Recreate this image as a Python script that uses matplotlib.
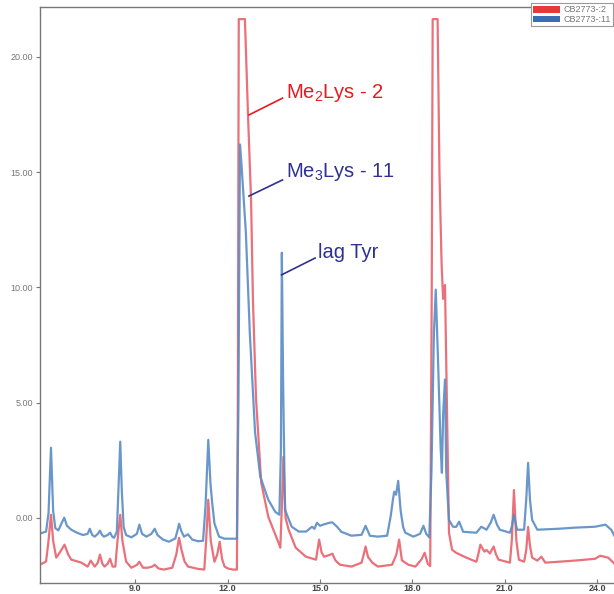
import numpy as np
import matplotlib.pyplot as plt
from matplotlib.patches import Patch

# trace CB2773-:2 (red), time (min) / signal
t_red = [5.90, 6.10, 6.18, 6.26, 6.33, 6.43, 6.55, 6.70, 6.82, 6.92, 7.25, 7.45, 7.55, 7.68,
         7.78, 7.85, 7.93, 8.00, 8.10, 8.18, 8.26, 8.35, 8.42, 8.51, 8.58, 8.70, 8.87, 9.05,
         9.13, 9.25, 9.40, 9.55, 9.63, 9.75, 9.92, 10.20, 10.33, 10.42, 10.50, 10.60, 10.71,
         11.04, 11.24, 11.30, 11.37, 11.45, 11.57, 11.66, 11.74, 11.82, 11.90, 12.00, 12.17,
         12.30, 12.33, 12.36, 12.56, 12.66, 12.76, 12.82, 12.92, 13.09, 13.32, 13.65, 13.71,
         13.76, 13.81, 13.88, 13.98, 14.21, 14.54, 14.87, 14.92, 14.97, 15.05, 15.13, 15.30,
         15.40, 15.50, 15.65, 16.02, 16.35, 16.42, 16.48, 16.56, 16.70, 16.88, 17.34, 17.48,
         17.57, 17.66, 17.87, 18.10, 18.30, 18.40, 18.50, 18.58, 18.63, 18.66, 18.82, 18.88,
         18.95, 19.00, 19.06, 19.13, 19.19, 19.29, 19.42, 19.75, 20.08, 20.14, 20.21, 20.34,
         20.41, 20.52, 20.64, 20.72, 20.80, 21.17, 21.23, 21.30, 21.38, 21.46, 21.63, 21.70,
         21.76, 21.82, 21.89, 22.06, 22.19, 22.32, 23.28, 23.94, 24.10, 24.36, 24.60, 24.76,
         24.85]
v_red = [-2.04, -1.90, -1.00, 0.13, -1.00, -1.73, -1.50, -1.17, -1.60, -1.82, -1.95, -2.12, -1.86, -2.12,
         -1.95, -1.60, -2.00, -2.12, -2.00, -1.78, -2.12, -2.12, -1.00, 0.13, -1.00, -1.90, -2.17, -2.05,
         -1.91, -2.17, -2.17, -2.12, -2.04, -2.20, -2.25, -2.17, -1.60, -0.87, -1.40, -1.90, -2.12,
         -2.22, -2.25, -1.00, 0.78, -1.00, -1.91, -1.60, -1.04, -1.80, -2.12, -2.20, -2.25,
         -2.25, 5.00, 21.64, 21.64, 17.50, 13.80, 9.50, 5.20, 1.52, 0.04, -1.08, -1.30,
         0.50, 2.64, 0.00, -0.52, -1.30, -1.69, -1.82, -1.40, -0.95, -1.50, -1.69, -1.62,
         -1.56, -1.85, -2.04, -2.12, -1.95, -1.60, -1.25, -1.70, -1.95, -2.12, -2.04, -1.60,
         -0.95, -1.85, -2.04, -2.12, -1.80, -1.52, -2.00, -2.10, 10.00, 21.64, 21.64, 15.00,
         11.00, 9.50, 10.10, 4.30, -0.65, -1.39, -1.52, -1.73, -1.91, -1.60, -1.17, -1.47,
         -1.40, -1.55, -1.25, -1.60, -1.82, -1.95, -1.00, 1.20, -1.00, -1.82, -1.91, -1.40,
         -0.40, -1.20, -1.73, -1.86, -1.69, -1.95, -1.86, -1.78, -1.65, -1.73, -2.04, -2.56,
         -2.90]

# trace CB2773-:11 (blue)
t_blue = [5.90, 6.10, 6.18, 6.26, 6.33, 6.40, 6.50, 6.60, 6.69, 6.78, 6.92, 7.10, 7.30, 7.45,
          7.52, 7.60, 7.68, 7.78, 7.85, 7.92, 7.98, 8.10, 8.18, 8.25, 8.31, 8.40, 8.46, 8.51,
          8.56, 8.62, 8.70, 8.87, 9.05, 9.13, 9.22, 9.36, 9.52, 9.63, 9.72, 9.90, 10.09, 10.30,
          10.38, 10.42, 10.50, 10.58, 10.71, 10.85, 11.04, 11.20, 11.28, 11.37, 11.44, 11.50,
          11.57, 11.72, 11.90, 12.10, 12.30, 12.35, 12.40, 12.45, 12.59, 12.72, 12.89, 13.06,
          13.32, 13.55, 13.68, 13.73, 13.76, 13.80, 13.86, 14.08, 14.31, 14.55, 14.74, 14.82,
          14.90, 15.00, 15.10, 15.30, 15.40, 15.56, 15.69, 16.02, 16.35, 16.48, 16.62, 16.88,
          17.18, 17.30, 17.37, 17.41, 17.47, 17.54, 17.62, 17.70, 17.77, 18.03, 18.25, 18.36,
          18.45, 18.55, 18.62, 18.70, 18.76, 18.83, 18.92, 18.96, 19.00, 19.06, 19.10, 19.19,
          19.32, 19.42, 19.52, 19.65, 20.08, 20.24, 20.41, 20.55, 20.64, 20.75, 20.84, 21.17,
          21.23, 21.30, 21.40, 21.63, 21.70, 21.76, 21.82, 21.89, 22.06, 22.72, 23.28, 23.94,
          24.27, 24.46, 24.63, 24.80, 24.85]
v_blue = [-0.69, -0.60, 0.20, 3.04, 0.30, -0.45, -0.55, -0.25, 0.00, -0.35, -0.52, -0.65, -0.75, -0.70,
          -0.48, -0.75, -0.82, -0.70, -0.56, -0.75, -0.82, -0.75, -0.65, -0.82, -0.87, -0.60, 1.50, 3.30,
          1.20, -0.40, -0.75, -0.85, -0.70, -0.30, -0.70, -0.82, -0.70, -0.48, -0.75, -0.95, -1.04, -0.90,
          -0.50, -0.26, -0.60, -0.82, -0.72, -0.95, -1.02, -1.00, 0.50, 3.38, 1.50, 0.60,
          -0.25, -0.82, -0.91, -0.91, -0.91, 5.00, 16.20, 15.30, 12.40, 8.00, 3.70, 1.78,
          0.78, 0.25, 0.13, 3.00, 11.50, 6.00, 0.35, -0.39, -0.60, -0.60, -0.39, -0.48,
          -0.22, -0.35, -0.30, -0.22, -0.20, -0.40, -0.61, -0.78, -0.74, -0.35, -0.78, -0.82,
          -0.78, 0.10, 0.80, 1.13, 1.00, 1.60, 0.30, -0.40, -0.65, -0.82, -0.70, -0.35,
          -0.70, -0.85, 2.00, 8.00, 9.90, 7.00, 3.00, 1.95, 4.50, 6.00, 2.00, -0.10,
          -0.39, -0.40, -0.17, -0.61, -0.65, -0.39, -0.52, -0.20, 0.13, -0.30, -0.52, -0.65,
          -0.39, 0.13, -0.52, -0.52, 0.80, 2.38, 0.80, -0.09, -0.52, -0.48, -0.43, -0.39,
          -0.30, -0.52, -0.95, -1.69, -2.10]

yticks = [0, 5, 10, 15, 20]
ytick_labels = ['0.00', '5.00', '10.00', '15.00', '20.00']
xticks = [9, 12, 15, 18, 21, 24]
xtick_labels = ['9.0', '12.0', '15.0', '18.0', '21.0', '24.0']

plt.rcParams['font.family'] = ['Liberation Sans', 'DejaVu Sans']
plt.rcParams['mathtext.fontset'] = 'custom'
plt.rcParams['mathtext.rm'] = 'Liberation Sans'
plt.rcParams['mathtext.it'] = 'Liberation Sans:italic'

fig = plt.figure(figsize=(6.14, 5.94), dpi=100)
ax = fig.add_axes([0.065, 0.019, 0.95, 0.969])

ax.plot(t_red, v_red, color='#e8606c', lw=1.6, alpha=0.9)
ax.plot(t_blue, v_blue, color='#5a8cc4', lw=1.6, alpha=0.9)

ax.set_xlim(5.90, 24.85)
ax.set_ylim(-2.82, 22.16)

ax.set_yticks(yticks)
ax.set_yticklabels(ytick_labels)
ax.set_xticks(xticks)
ax.set_xticklabels(xtick_labels, fontweight='bold')
ax.tick_params(axis='y', direction='out', length=3, labelsize=6.5, colors='#777777', pad=2)
ax.tick_params(axis='x', direction='in', length=3, labelsize=6.5, labelcolor='#444444',
               color='#777777', pad=1)
for s in ax.spines.values():
    s.set_color('#777777')
    s.set_linewidth(1.0)
ax.spines['right'].set_visible(False)

# peak labels
ax.plot([12.69, 13.78], [17.48, 18.21], color='#e8191e', lw=1.2)
ax.text(13.88, 18.21, 'Me$_2$Lys - 2', color='#e8191e', fontsize=14.5, va='baseline')
ax.plot([12.69, 13.78], [13.96, 14.66], color='#2e3192', lw=1.2)
ax.text(13.88, 14.79, 'Me$_3$Lys - 11', color='#2e3192', fontsize=14.5, va='baseline')
ax.plot([13.75, 14.84], [10.54, 11.27], color='#2e3192', lw=1.2)
ax.text(14.93, 11.27, 'lag Tyr', color='#2e3192', fontsize=14.5, va='baseline')

handles = [Patch(facecolor='#e8393a', edgecolor='none', label='CB2773-:2'),
           Patch(facecolor='#3a6eb0', edgecolor='none', label='CB2773-:11')]
leg = fig.legend(handles=handles, loc='upper right', bbox_to_anchor=(0.999, 0.995),
                 fontsize=6.5, handlelength=3.0, handleheight=0.8, labelspacing=0.1,
                 borderpad=0.25, handletextpad=0.4, fancybox=False, framealpha=1,
                 borderaxespad=0)
leg.get_frame().set_edgecolor('#999999')
leg.get_frame().set_linewidth(0.8)
for txt in leg.get_texts():
    txt.set_color('#777777')

fig.savefig('out.png', dpi=100)
